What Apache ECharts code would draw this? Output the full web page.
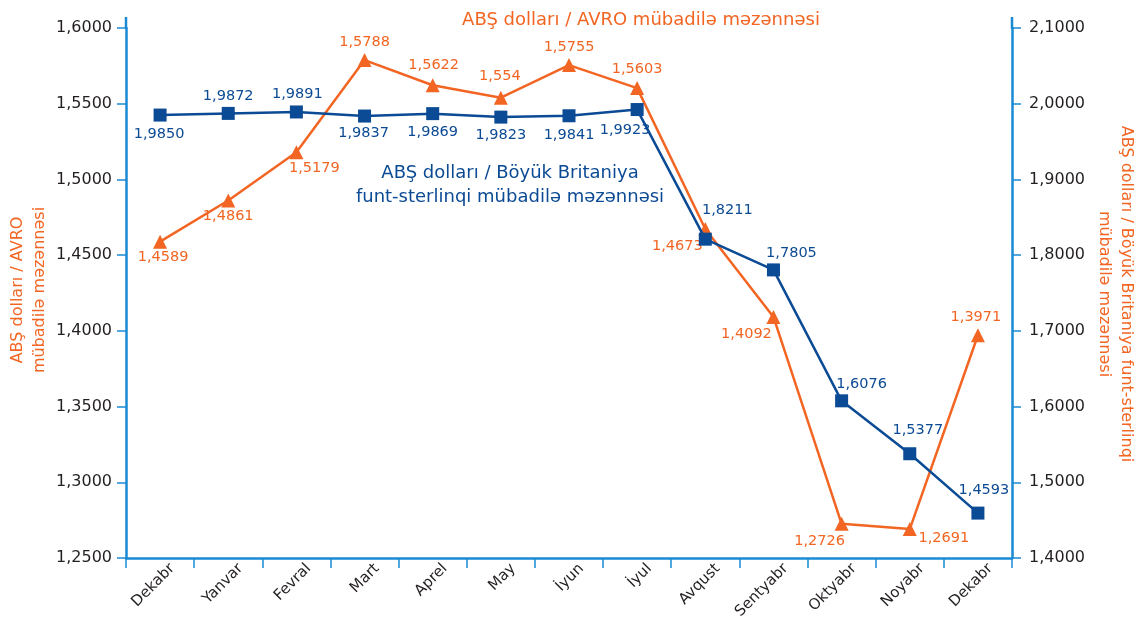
<!DOCTYPE html>
<html>
<head>
<meta charset="utf-8">
<script src="https://cdn.jsdelivr.net/npm/echarts@6/dist/echarts.min.js"></script>
<style>html,body{margin:0;padding:0;background:#fff}#c{width:1143px;height:626px}</style>
</head>
<body>
<div id="c"></div>
<script>
const categories = ['Dekabr','Yanvar','Fevral','Mart','Aprel','May','İyun','İyul','Avqust','Sentyabr','Oktyabr','Noyabr','Dekabr'];
const usdEur = [1.4589,1.4861,1.5179,1.5788,1.5622,1.554,1.5755,1.5603,1.4673,1.4092,1.2726,1.2691,1.3971];
const usdGbp = [1.9850,1.9872,1.9891,1.9837,1.9869,1.9823,1.9841,1.9923,1.8211,1.7805,1.6076,1.5377,1.4593];
const eurLabels = ['1,4589','1,4861','1,5179','1,5788','1,5622','1,554','1,5755','1,5603','1,4673','1,4092','1,2726','1,2691','1,3971'];
const gbpLabels = ['1,9850','1,9872','1,9891','1,9837','1,9869','1,9823','1,9841','1,9923','1,8211','1,7805','1,6076','1,5377','1,4593'];
const leftTicks = {min:1.25, max:1.6, interval:0.05};
const rightTicks = {min:1.4, max:2.1, interval:0.1};

// label offsets (style only)
const eurOffsets = [[3,16],[0,16],[18,16],[0,-18],[1,-20],[-1,-21],[0,-18],[0,-19],[-28,17],[-27,17],[-22,17],[34,9],[-2,-18]];
const gbpOffsets = [[-1,19],[0,-17],[1,-18],[-1,17],[0,19],[0,18],[0,19],[-12,21],[22,-29],[18,-17],[20,-17],[8,-24],[6,-23]];

const ORANGE = '#f26522', BLUE = '#0b4a94', AXIS = '#1a8ad4', TXT = '#231f20';
const FONT = 'DejaVu Sans';

function build(values, labels, offsets, color) {
  return values.map((v, i) => ({
    value: v,
    label: {
      show: true, position: 'inside', offset: offsets[i],
      formatter: labels[i], color: color, fontSize: 14.5, fontFamily: FONT,
      align: 'center', verticalAlign: 'middle'
    }
  }));
}

const fmt = v => v.toFixed(4).replace('.', ',');

const chart = echarts.init(document.getElementById('c'), null, {renderer: 'canvas'});
chart.setOption({
  animation: false,
  backgroundColor: '#fff',
  title: {
    text: 'ABŞ dolları / AVRO mübadilə məzənnəsi',
    left: 636, top: 6, textAlign: 'center',
    textStyle: {color: ORANGE, fontSize: 18, fontWeight: 'normal', fontFamily: FONT}
  },
  grid: {left: 126, right: 131, top: 28, bottom: 68},
  xAxis: {
    type: 'category', data: categories, boundaryGap: true,
    axisLine: {lineStyle: {color: AXIS, width: 2.5}},
    axisTick: {show: true, length: 10, lineStyle: {color: AXIS, width: 1.5}},
    axisLabel: {rotate: 45, color: TXT, fontSize: 15, fontFamily: FONT, margin: 10, interval: 0,
      verticalAlign: 'top', padding: [0, -10, 0, 0]}
  },
  yAxis: [
    {
      type: 'value', position: 'left', min: leftTicks.min, max: leftTicks.max, interval: leftTicks.interval,
      splitLine: {show: false},
      axisLine: {show: true, lineStyle: {color: AXIS, width: 2.5}},
      axisTick: {show: true, length: 9, lineStyle: {color: AXIS, width: 1.5}},
      axisLabel: {color: TXT, fontSize: 16, fontFamily: FONT, margin: 14, formatter: fmt}
    },
    {
      type: 'value', position: 'right', min: rightTicks.min, max: rightTicks.max, interval: rightTicks.interval,
      splitLine: {show: false},
      axisLine: {show: true, lineStyle: {color: AXIS, width: 2.5}},
      axisTick: {show: true, length: 9, lineStyle: {color: AXIS, width: 1.5}},
      axisLabel: {color: TXT, fontSize: 16, fontFamily: FONT, margin: 17, formatter: fmt}
    }
  ],
  graphic: [
    {type: 'line', shape: {x1: 126, y1: 17, x2: 126, y2: 29}, style: {stroke: AXIS, lineWidth: 2.5}},
    {type: 'line', shape: {x1: 1012, y1: 17, x2: 1012, y2: 29}, style: {stroke: AXIS, lineWidth: 2.5}},
    {type: 'text', x: 29, y: 290, rotation: Math.PI / 2, style: {
      text: 'ABŞ dolları / AVRO\nmübadilə məzənnəsi', fill: ORANGE, font: '16px ' + FONT,
      align: 'center', verticalAlign: 'middle', lineHeight: 22}},
    {type: 'text', x: 1115, y: 294, rotation: -Math.PI / 2, style: {
      text: 'ABŞ dolları / Böyük Britaniya funt-sterlinqi\nmübadilə məzənnəsi', fill: ORANGE, font: '16px ' + FONT,
      align: 'center', verticalAlign: 'middle', lineHeight: 22}},
    {type: 'text', x: 510, y: 185, style: {
      text: 'ABŞ dolları / Böyük Britaniya\nfunt-sterlinqi mübadilə məzənnəsi', fill: BLUE, font: '18px ' + FONT,
      align: 'center', verticalAlign: 'middle', lineHeight: 24}}
  ],
  series: [
    {
      name: 'USD/EUR', type: 'line', yAxisIndex: 0,
      data: build(usdEur, eurLabels, eurOffsets, ORANGE),
      symbol: 'triangle', symbolSize: 14,
      lineStyle: {color: ORANGE, width: 2.5},
      itemStyle: {color: ORANGE}, z: 3
    },
    {
      name: 'USD/GBP', type: 'line', yAxisIndex: 1,
      data: build(usdGbp, gbpLabels, gbpOffsets, BLUE),
      symbol: 'rect', symbolSize: 13,
      lineStyle: {color: BLUE, width: 2.5},
      itemStyle: {color: BLUE}, z: 4
    }
  ]
});
</script>
</body>
</html>
